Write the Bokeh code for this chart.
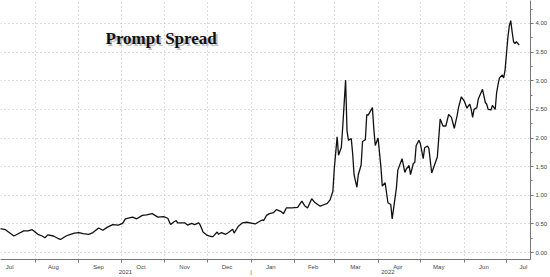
import pandas as pd
from bokeh.plotting import figure
from bokeh.models import Range1d, FixedTicker, Label, PrintfTickFormatter
from bokeh.embed import file_html
from bokeh.resources import INLINE

# ---------------- data ----------------
dates = [
    "2021-07-07", "2021-07-11", "2021-07-17", "2021-07-20", "2021-07-24", "2021-07-27", "2021-07-30",
    "2021-08-03", "2021-08-06", "2021-08-08", "2021-08-10", "2021-08-14", "2021-08-17", "2021-08-19",
    "2021-08-23", "2021-08-26", "2021-08-29",
    "2021-09-01", "2021-09-04", "2021-09-08", "2021-09-11", "2021-09-15", "2021-09-18", "2021-09-21",
    "2021-09-25", "2021-09-29",
    "2021-10-02", "2021-10-04", "2021-10-09", "2021-10-12", "2021-10-16", "2021-10-19", "2021-10-23",
    "2021-10-25", "2021-10-27", "2021-10-31",
    "2021-11-03", "2021-11-05", "2021-11-07", "2021-11-09", "2021-11-10", "2021-11-15", "2021-11-17",
    "2021-11-20", "2021-11-22", "2021-11-25", "2021-11-26", "2021-11-28",
    "2021-12-01", "2021-12-04", "2021-12-05", "2021-12-08", "2021-12-09", "2021-12-11", "2021-12-14",
    "2021-12-16", "2021-12-19", "2021-12-20", "2021-12-23", "2021-12-26", "2021-12-29",
    "2022-01-02", "2022-01-04", "2022-01-06", "2022-01-09", "2022-01-10", "2022-01-12", "2022-01-14",
    "2022-01-17", "2022-01-19", "2022-01-22", "2022-01-24", "2022-01-26", "2022-01-30",
    "2022-02-03", "2022-02-06", "2022-02-08", "2022-02-10", "2022-02-13", "2022-02-15", "2022-02-19",
    "2022-02-22", "2022-02-24", "2022-02-26", "2022-02-28",
    "2022-03-01", "2022-03-03", "2022-03-04", "2022-03-06", "2022-03-07", "2022-03-09", "2022-03-10",
    "2022-03-11", "2022-03-13", "2022-03-14", "2022-03-15", "2022-03-17", "2022-03-18", "2022-03-20",
    "2022-03-21", "2022-03-23", "2022-03-24", "2022-03-25", "2022-03-28", "2022-03-29", "2022-03-30",
    "2022-04-01", "2022-04-03", "2022-04-04", "2022-04-06", "2022-04-08", "2022-04-10", "2022-04-11",
    "2022-04-14", "2022-04-15", "2022-04-18", "2022-04-20", "2022-04-21", "2022-04-23", "2022-04-24",
    "2022-04-26", "2022-04-27", "2022-04-28", "2022-04-30",
    "2022-05-01", "2022-05-03", "2022-05-04", "2022-05-06", "2022-05-07", "2022-05-09", "2022-05-11",
    "2022-05-13", "2022-05-15", "2022-05-17", "2022-05-19", "2022-05-21", "2022-05-23", "2022-05-25",
    "2022-05-27", "2022-05-28", "2022-05-30",
    "2022-06-01", "2022-06-03", "2022-06-04", "2022-06-05", "2022-06-06", "2022-06-07", "2022-06-08",
    "2022-06-10", "2022-06-11", "2022-06-14", "2022-06-16", "2022-06-17", "2022-06-18", "2022-06-20",
    "2022-06-21", "2022-06-23", "2022-06-24", "2022-06-25", "2022-06-26", "2022-06-28", "2022-06-29",
    "2022-06-30",
    "2022-07-01", "2022-07-02", "2022-07-03", "2022-07-04", "2022-07-05", "2022-07-06", "2022-07-07",
    "2022-07-08", "2022-07-10",
]
spread = [
    0.42, 0.40, 0.29, 0.33, 0.38, 0.38, 0.40,
    0.32, 0.29, 0.26, 0.31, 0.29, 0.25, 0.23,
    0.29, 0.32, 0.34,
    0.35, 0.33, 0.32, 0.35, 0.43, 0.39, 0.44,
    0.49, 0.48,
    0.51, 0.59, 0.62, 0.59, 0.65, 0.66, 0.68,
    0.65, 0.62, 0.63,
    0.60, 0.49, 0.53, 0.56, 0.52, 0.52, 0.48,
    0.51, 0.49, 0.52, 0.48, 0.36,
    0.30, 0.28, 0.28, 0.36, 0.32, 0.35, 0.32,
    0.35, 0.41, 0.34, 0.46, 0.52, 0.53,
    0.51, 0.50, 0.53, 0.57, 0.56, 0.65, 0.68,
    0.70, 0.75, 0.72, 0.68, 0.78, 0.78,
    0.79, 0.90, 0.82, 0.78, 0.94, 0.88, 0.81,
    0.84, 0.86, 0.92, 1.07,
    1.47, 2.02, 1.70, 1.84, 2.21, 3.01, 2.13,
    1.96, 1.99, 1.73, 1.36, 1.14, 1.36, 1.53,
    1.94, 1.97, 2.41, 2.40, 2.53, 2.16, 1.87,
    2.00, 1.50, 1.16, 1.22, 0.87, 0.84, 0.59,
    1.13, 1.44, 1.64, 1.40, 1.46, 1.52, 1.36,
    1.56, 1.57, 1.87, 1.96,
    1.90, 1.64, 1.83, 1.86, 1.82, 1.39, 1.53,
    1.67, 2.33, 2.21, 2.21, 2.41, 2.36, 2.17,
    2.39, 2.53, 2.72,
    2.65, 2.52, 2.56, 2.59, 2.50, 2.36, 2.50,
    2.53, 2.68, 2.85, 2.62, 2.59, 2.50, 2.49,
    2.57, 2.50, 2.79, 2.93, 3.05, 3.10, 3.05,
    3.19,
    3.48, 3.76, 3.96, 4.05, 3.85, 3.68, 3.65,
    3.68, 3.62,
]
last_value = 3.62
title_text = "Prompt Spread"

month_starts = ["2021-08-01", "2021-09-01", "2021-10-01", "2021-11-01", "2021-12-01", "2022-01-01",
                "2022-02-01", "2022-03-01", "2022-04-01", "2022-05-01", "2022-06-01", "2022-07-01"]
month_label_dates = ["2021-07-14", "2021-08-14", "2021-09-15", "2021-10-15", "2021-11-15", "2021-12-15",
                     "2022-01-15", "2022-02-14", "2022-03-16", "2022-04-15", "2022-05-14", "2022-06-15",
                     "2022-07-13"]
month_labels = ["Jul", "Aug", "Sep", "Oct", "Nov", "Dec", "Jan", "Feb", "Mar", "Apr", "May", "Jun", "Jul"]
year_label_dates = ["2021-10-04", "2022-04-08"]
year_labels = ["2021", "2022"]
year_boundary = "2022-01-01"
y_ticks = [0.0, 0.5, 1.0, 1.5, 2.0, 2.5, 3.0, 3.5, 4.0]
y_minor = [0.25, 0.75, 1.25, 1.75, 2.25, 2.75, 3.25, 3.75, 4.25]

x_start = "2021-07-07 12:00"
x_end = "2022-07-18"


def ms(s):
    return int(pd.Timestamp(s).value // 10**6)


# ---------------- figure ----------------
p = figure(width=550, height=277, x_axis_type="datetime", y_axis_location="right",
           output_backend="svg", toolbar_location=None,
           x_range=Range1d(ms(x_start), ms(x_end)), y_range=Range1d(-0.12, 4.40),
           min_border_left=0, min_border_top=0, min_border_right=19, min_border_bottom=14)
p.outline_line_color = None
p.background_fill_color = "white"
p.border_fill_color = "white"

FONT = "Liberation Sans"

# x axis: month names at mid-month, years on a second text line, boundary ticks as minor ticks
tick_vals = [ms(d) for d in month_label_dates] + [ms(d) for d in year_label_dates] + [ms(year_boundary)]
overrides = {ms(d): lab for d, lab in zip(month_label_dates, month_labels)}
overrides.update({ms(d): "\n" + lab for d, lab in zip(year_label_dates, year_labels)})
overrides[ms(year_boundary)] = "\n|"

xa = p.xaxis[0]
xa.ticker = FixedTicker(ticks=tick_vals, minor_ticks=[ms(d) for d in month_starts])
xa.major_label_overrides = overrides
xa.major_tick_line_color = None
xa.major_tick_out = 0
xa.major_tick_in = 0
xa.minor_tick_out = 3
xa.minor_tick_in = 0
xa.minor_tick_line_color = "#777777"
xa.axis_line_color = "#777777"
xa.major_label_text_font = FONT
xa.major_label_text_font_size = "6px"
xa.major_label_text_color = "#444444"
xa.major_label_text_line_height = 0.85
xa.major_label_standoff = 1

# y axis
ya = p.yaxis[0]
ya.ticker = FixedTicker(ticks=y_ticks, minor_ticks=y_minor)
ya.formatter = PrintfTickFormatter(format="%.2f")
ya.major_tick_out = 3
ya.major_tick_in = 0
ya.minor_tick_out = 2
ya.minor_tick_in = 0
ya.major_tick_line_color = "#777777"
ya.minor_tick_line_color = "#777777"
ya.axis_line_color = "#777777"
ya.major_label_text_font = FONT
ya.major_label_text_font_size = "6px"
ya.major_label_text_color = "#444444"
ya.major_label_standoff = 2

# grids
p.xgrid.ticker = FixedTicker(ticks=[ms(d) for d in month_starts])
p.ygrid.ticker = FixedTicker(ticks=y_ticks)
for g in (p.xgrid[0], p.ygrid[0]):
    g.grid_line_color = "#bbbbbb"
    g.grid_line_dash = "1 3"
    g.grid_line_width = 1

# line
p.line(x=pd.to_datetime(dates), y=spread, line_color="#111111", line_width=1.3)

# last value tag
p.add_layout(Label(x=ms(x_end), y=last_value, text=f"{last_value:.2f}", x_offset=2,
                   text_align="left", text_baseline="middle",
                   text_font=FONT, text_font_size="6px", text_color="white",
                   background_fill_color="black", padding=2))

# title with soft shadow
p.add_layout(Label(x=107, y=219, x_units="screen", y_units="screen", text=title_text,
                   text_font="Liberation Serif", text_font_style="bold",
                   text_font_size="17px", text_color="#777777", text_alpha=0.45,
                   text_baseline="alphabetic"))
p.add_layout(Label(x=105, y=221, x_units="screen", y_units="screen", text=title_text,
                   text_font="Liberation Serif", text_font_style="bold",
                   text_font_size="17px", text_color="#111111",
                   text_baseline="alphabetic"))

open("out.html", "w").write(file_html(p, INLINE))
